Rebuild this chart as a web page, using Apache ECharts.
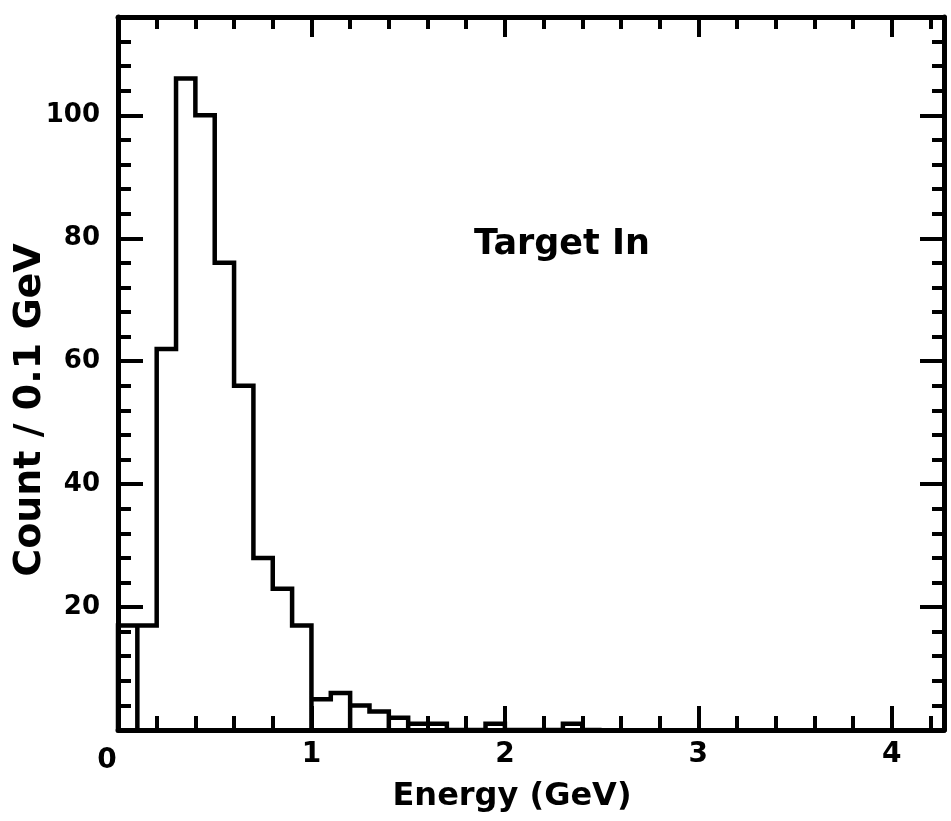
<!DOCTYPE html>
<html>
<head>
<meta charset="utf-8">
<script src="https://cdn.jsdelivr.net/npm/echarts@6/dist/echarts.min.js"></script>
<style>html,body{margin:0;padding:0;background:#fff}#c{width:951px;height:821px}</style>
</head>
<body>
<div id="c"></div>
<script>
// Histogram bins (lower edge, GeV) and counts per 0.1 GeV
const binLow = [0.0, 0.1, 0.2, 0.3, 0.4, 0.5, 0.6, 0.7, 0.8, 0.9, 1.0, 1.1, 1.2, 1.3, 1.4, 1.5, 1.6, 1.7, 1.8, 1.9, 2.0, 2.1, 2.2, 2.3, 2.4];
const counts = [17, 17, 62, 106, 100, 76, 56, 28, 23, 17, 5, 6, 4, 3, 2, 1, 1, 0, 0, 1, 0, 0, 0, 1, 0];
const binWidth = 0.1;
// bin edges where the drawn outline drops to the baseline
const dropEdges = [0.1, 1.0, 1.2, 1.4, 1.5];
const xTickLabels = ['0', '1', '2', '3', '4'];
const yTickLabels = ['20', '40', '60', '80', '100'];
const xTitle = 'Energy (GeV)';
const yTitle = 'Count / 0.1 GeV';
const annotation = 'Target In';

const FONT = 'DejaVu Sans';
const pts = [[binLow[0], 0]];
for (let i = 0; i < binLow.length; i++) {
  const x0 = binLow[i];
  const x1 = Math.round((x0 + binWidth) * 1000) / 1000;
  if (i > 0 && dropEdges.some(d => Math.abs(d - x0) < 1e-9)) pts.push([x0, 0]);
  pts.push([x0, counts[i]]);
  pts.push([x1, counts[i]]);
}
pts.push([Math.round((binLow[binLow.length - 1] + binWidth) * 1000) / 1000, 0]);

const XMAX = 4.27, YMAX = 116;
const axisLineStyle = { show: true, onZero: false, lineStyle: { color: '#000', width: 5 } };
const noLine = { show: false, onZero: false };
const lbl = { show: false };

function xAx(pos, interval, len, showLine, labels) {
  return {
    type: 'value', min: 0, max: XMAX, interval: interval, position: pos,
    axisLine: showLine ? axisLineStyle : noLine,
    axisTick: { show: true, inside: true, length: len, lineStyle: { color: '#000', width: 4 } },
    splitLine: { show: false },
    axisLabel: labels ? {
      show: true, color: '#000', fontFamily: FONT, fontWeight: 'bold', fontSize: 28, margin: 11,
      showMaxLabel: false,
      formatter: function (v) {
        const i = Math.round(v);
        if (Math.abs(v - i) > 1e-6 || i >= xTickLabels.length) return '';
        return i === 0 ? '{z|' + xTickLabels[0] + '}' : xTickLabels[i];
      },
      rich: { z: { fontFamily: FONT, fontWeight: 'bold', fontSize: 28, color: '#000', padding: [6, 22, 0, 0] } }
    } : lbl
  };
}
function yAx(pos, interval, len, showLine, labels) {
  return {
    type: 'value', min: 0, max: YMAX, interval: interval, position: pos,
    axisLine: showLine ? axisLineStyle : noLine,
    axisTick: { show: true, inside: true, length: len, lineStyle: { color: '#000', width: 4 } },
    splitLine: { show: false },
    axisLabel: labels ? {
      show: true, color: '#000', fontFamily: FONT, fontWeight: 'bold', fontSize: 26, margin: 18,
      showMaxLabel: false, showMinLabel: false,
      formatter: function (v) {
        const i = Math.round(v / 20);
        if (Math.abs(v - i * 20) > 1e-6 || i < 1 || i > yTickLabels.length) return '';
        return yTickLabels[i - 1];
      }
    } : lbl
  };
}

const chart = echarts.init(document.getElementById('c'), null, { renderer: 'canvas' });
chart.setOption({
  backgroundColor: '#fff',
  animation: false,
  grid: { left: 118, right: 7, top: 17, bottom: 91, containLabel: false },
  xAxis: [
    xAx('bottom', 1, 24, true, true),
    xAx('bottom', 0.2, 14, false, false),
    xAx('top', 1, 20, true, false),
    xAx('top', 0.2, 12, false, false)
  ],
  yAxis: [
    yAx('left', 20, 25, true, true),
    yAx('left', 4, 13, false, false),
    yAx('right', 20, 24, true, false),
    yAx('right', 4, 12, false, false)
  ],
  series: [{
    type: 'line', xAxisIndex: 0, yAxisIndex: 0,
    data: pts, showSymbol: false, symbol: 'none', clip: false,
    lineStyle: { color: '#000', width: 4.5, join: 'miter' }
  }],
  graphic: [
    { type: 'text', x: 512, y: 797, style: { text: xTitle, x: 0, y: 0, align: 'center', verticalAlign: 'middle', font: 'bold 32px "DejaVu Sans"', fill: '#000' } },
    { type: 'text', x: 30, y: 410, rotation: Math.PI / 2, style: { text: yTitle, x: 0, y: 0, align: 'center', verticalAlign: 'middle', font: 'bold 38px "DejaVu Sans"', fill: '#000' } },
    { type: 'text', x: 562, y: 245, style: { text: annotation, x: 0, y: 0, align: 'center', verticalAlign: 'middle', font: 'bold 35px "DejaVu Sans"', fill: '#000' } }
  ]
});
</script>
</body>
</html>
